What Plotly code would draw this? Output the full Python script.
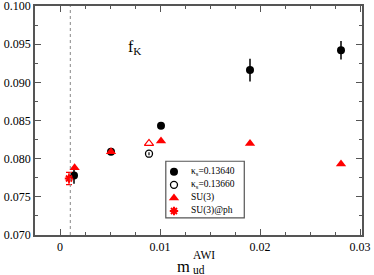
import plotly.graph_objects as go

# kappa_s = 0.13640 (filled black circles)
k1_x = [0.0014, 0.0051, 0.0101, 0.0190, 0.0281]
k1_y = [0.0778, 0.0809, 0.0843, 0.0916, 0.0942]
k1_e = [0.0011, 0.0003, 0.0003, 0.0015, 0.0012]

# kappa_s = 0.13660 (open black circles)
k2_x = [0.0089]
k2_y = [0.08065]
k2_e = [0.0002]

# SU(3) (filled red triangles)
su_x = [0.00146, 0.0051, 0.0101, 0.0190, 0.0281]
su_y = [0.0788, 0.0809, 0.0823, 0.0820, 0.0793]

# SU(3) at kappa_s = 0.13660 (open red triangle)
su2_x = [0.0089]
su2_y = [0.0820]

# SU(3)@ph (red asterisk)
ph_x = [0.0009]
ph_y = [0.0774]
ph_e = [0.0008]

vline_x = 0.00103

x_ticks = [0, 0.01, 0.02, 0.03]
x_ticktext = ["0", "0.01", "0.02", "0.03"]

legend_labels = ["κ<sub>s</sub>=0.13640", "κ<sub>s</sub>=0.13660", "SU(3)", "SU(3)@ph"]

FONT = "Liberation Serif, Times New Roman, serif"

sty_k1 = dict(symbol="circle", size=8, color="black")
sty_k2 = dict(symbol="circle-open", size=7, color="black", line=dict(width=1.3))
sty_su = dict(symbol="triangle-up", size=9, color="red")
sty_su2 = dict(symbol="triangle-up-open", size=8, color="red", line=dict(width=1.2))
sty_ph = dict(symbol="asterisk-open", size=7, color="red", line=dict(width=2, color="red"))

fig = go.Figure()

fig.add_trace(go.Scatter(
    x=k1_x, y=k1_y, mode="markers", name=legend_labels[0], marker=sty_k1,
    error_y=dict(type="data", array=k1_e, color="black", thickness=1.5, width=0),
))
fig.add_trace(go.Scatter(
    x=k2_x, y=k2_y, mode="markers", name=legend_labels[1], marker=sty_k2,
    error_y=dict(type="data", array=k2_e, color="black", thickness=1.2, width=0),
))
fig.add_trace(go.Scatter(x=su_x, y=su_y, mode="markers", name=legend_labels[2], marker=sty_su))
fig.add_trace(go.Scatter(x=su2_x, y=su2_y, mode="markers", name="SU(3), κ<sub>s</sub>=0.13660",
                         marker=sty_su2))
fig.add_trace(go.Scatter(
    x=ph_x, y=ph_y, mode="markers", name=legend_labels[3], marker=sty_ph,
    error_y=dict(type="data", array=ph_e, color="red", thickness=1.2, width=3),
))

# ---- hand-built legend box (compact, like the original) ----
LX0, LX1, LY0, LY1 = 0.400, 0.640, 0.075, 0.322   # box, paper coords
KEY_X, TXT_X = 0.425, 0.470
ROW_TOP, ROW_STEP = 0.276, 0.057
fig.add_shape(type="rect", xref="paper", yref="paper", x0=LX0, x1=LX1, y0=LY0, y1=LY1,
              fillcolor="white", line=dict(color="#555", width=1.2), layer="below")
key_styles = [sty_k1, sty_k2, sty_su, sty_ph]
for i, (lab, sty) in enumerate(zip(legend_labels, key_styles)):
    yy = ROW_TOP - i * ROW_STEP
    fig.add_trace(go.Scatter(x=[KEY_X], y=[yy], xaxis="x2", yaxis="y2", mode="markers",
                             marker=sty, showlegend=False, hoverinfo="skip"))
    fig.add_annotation(x=TXT_X, y=yy, xref="paper", yref="paper", text=lab,
                       showarrow=False, xanchor="left", yanchor="middle",
                       font=dict(family=FONT, size=9.5, color="black"))

fig.add_shape(type="line", xref="x", yref="paper", x0=vline_x, x1=vline_x, y0=0, y1=1,
              line=dict(color="#888", width=1, dash="dot"))

fig.add_annotation(x=0.0066, y=0.0945, xref="x", yref="y", text="f<sub>K</sub>",
                   showarrow=False, xanchor="left", yanchor="middle",
                   font=dict(family=FONT, size=16, color="black"))

# x axis title: m with stacked ud / AWI
fig.add_annotation(x=0.476, y=-0.184, xref="paper", yref="paper", text="m",
                   showarrow=False, xanchor="right", yanchor="bottom", borderpad=0,
                   font=dict(family=FONT, size=16.5, color="black"))
fig.add_annotation(x=0.479, y=-0.184, xref="paper", yref="paper", text="AWI<br>ud",
                   showarrow=False, xanchor="left", yanchor="bottom", align="left", borderpad=0,
                   font=dict(family=FONT, size=11.5, color="black"))

axis_common = dict(
    showgrid=False, zeroline=False, showline=True, linecolor="#555", linewidth=1.5,
    mirror="ticks", ticks="inside", tickcolor="#555", ticklen=6, tickwidth=1,
    tickfont=dict(family=FONT, size=12, color="black"), ticklabeloverflow="allow",
    automargin=False,
)

fig.update_xaxes(range=[-0.0025, 0.0302], tickmode="array", tickvals=x_ticks, ticktext=x_ticktext,
                 minor=dict(dtick=0.0025, tick0=0, ticks="inside", ticklen=3, tickcolor="#555"),
                 **axis_common)
fig.update_yaxes(range=[0.070, 0.1000001], tickmode="linear", dtick=0.005, tick0=0.07,
                 tickformat=".3f",
                 minor=dict(dtick=0.0025, tick0=0.07, ticks="inside", ticklen=3, tickcolor="#555"),
                 **axis_common)

fig.update_layout(
    width=374, height=275,
    margin=dict(l=34.5, r=12, t=6, b=40),
    paper_bgcolor="white", plot_bgcolor="white",
    font=dict(family=FONT, size=10, color="black"),
    showlegend=False,
    xaxis2=dict(overlaying="x", range=[0, 1], visible=False, fixedrange=True),
    yaxis2=dict(overlaying="y", range=[0, 1], visible=False, fixedrange=True),
)

fig.write_html("out.html", config={"displayModeBar": False},
               post_script="document.body.style.margin='0';document.body.style.overflow='hidden';")
